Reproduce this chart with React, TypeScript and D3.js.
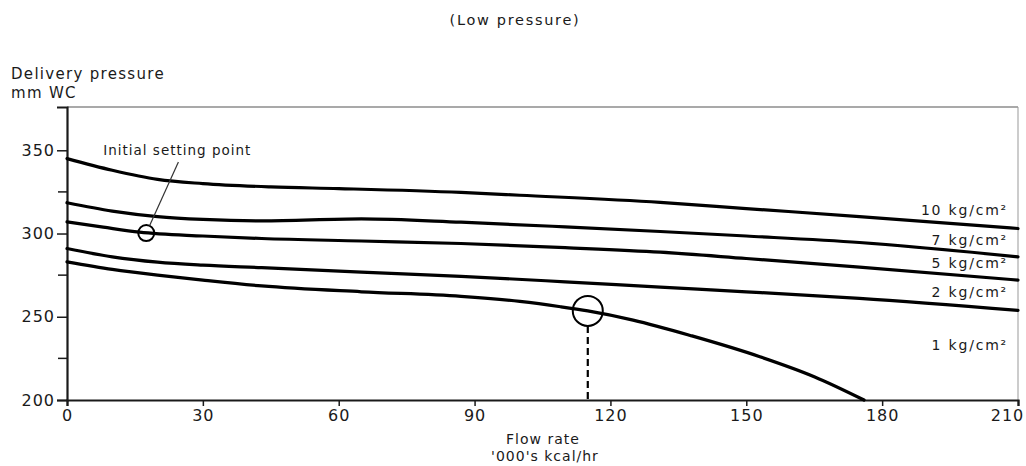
import { useEffect, useRef } from "react";
import * as d3 from "d3";

type Pt = [number, number];

// flow rate ('000 kcal/hr) vs delivery pressure (mm WC)
const curve10: Pt[] = [
  [0, 345], [10, 338], [20, 332.5], [30, 330], [45, 328], [60, 327], [87, 324.7],
  [100, 323], [131, 318.7], [150, 315], [175, 310.2], [210, 303],
];
const curve7: Pt[] = [
  [0, 318.5], [10, 313.5], [20, 310.2], [30, 308.5], [43, 307.6], [65, 308.8],
  [87, 306.8], [110, 304], [131, 301.2], [150, 298.5], [175, 294.6], [210, 286],
];
const curve5: Pt[] = [
  [0, 307], [8, 303.8], [16, 300.8], [30, 298.5], [43, 297], [65, 295.5],
  [87, 294], [110, 291.5], [131, 288.8], [150, 285], [175, 279.8], [210, 272],
];
const curve2: Pt[] = [
  [0, 291], [10, 286], [20, 282.8], [30, 281], [43, 279.5], [65, 276.8],
  [87, 274.3], [110, 271], [131, 267.8], [150, 265], [175, 261], [210, 253.8],
];
const curve1: Pt[] = [
  [0, 283], [10, 278.5], [20, 275], [30, 272], [43, 268.5], [65, 265],
  [87, 262.3], [100, 259.2], [109, 256], [115, 253.5], [125, 248], [138, 238.5],
  [153, 226], [165, 214], [176, 200],
];

const curves = [
  { label: "10 kg/cm²", data: curve10, labelY: 311 },
  { label: "7 kg/cm²", data: curve7, labelY: 293 },
  { label: "5 kg/cm²", data: curve5, labelY: 279.3 },
  { label: "2 kg/cm²", data: curve2, labelY: 262 },
  { label: "1 kg/cm²", data: curve1, labelY: 230 },
];

const xTicks = [0, 30, 60, 90, 120, 150, 180, 210];
const yTicks = [200, 250, 300, 350];
const yMinorTicks = [225, 275, 325];

const setPoint = { x: 17.5, y: 300.3, labelX: 8, labelY: 347, leaderX: 24.6, leaderY: 343 };
const limitPoint = { x: 115, y: 253.5 };

const W = 1026;
const H = 466;
const FONT = "DejaVu Sans, sans-serif";
const INK = "#1a1a1a";

export default function App() {
  const ref = useRef<SVGSVGElement | null>(null);

  useEffect(() => {
    const svg = d3.select(ref.current);
    svg.selectAll("*").remove();

    const x = d3.scaleLinear().domain([0, 210]).range([67, 1018]);
    const y = d3.scaleLinear().domain([200, 376]).range([400, 107]);

    const root = svg.attr("viewBox", `0 0 ${W} ${H}`).style("font-family", FONT);

    root.append("rect").attr("width", W).attr("height", H).attr("fill", "#fff");

    // title
    root.append("text")
      .attr("x", 515).attr("y", 25)
      .attr("text-anchor", "middle")
      .attr("font-size", 14.5).attr("letter-spacing", 1.7)
      .attr("fill", INK)
      .text("(Low pressure)");

    // y label
    root.append("text")
      .attr("x", 11).attr("y", 79)
      .attr("font-size", 15).attr("letter-spacing", 1.3)
      .attr("fill", INK)
      .text("Delivery pressure");
    root.append("text")
      .attr("x", 11).attr("y", 98)
      .attr("font-size", 15).attr("letter-spacing", 1.3)
      .attr("fill", INK)
      .text("mm WC");

    // frame (top / right light)
    root.append("line")
      .attr("x1", x(0)).attr("x2", x(210))
      .attr("y1", y(376)).attr("y2", y(376))
      .attr("stroke", "#555").attr("stroke-width", 1.2);
    root.append("line")
      .attr("x1", x(210)).attr("x2", x(210))
      .attr("y1", y(376)).attr("y2", y(200))
      .attr("stroke", "#999").attr("stroke-width", 1);

    // axes
    const xAxis = root.append("g")
      .attr("transform", `translate(0,${y(200)})`)
      .call(d3.axisBottom(x).tickValues(xTicks).tickSize(6).tickPadding(4).tickFormat(d3.format("d")));
    xAxis.select(".domain").attr("stroke", INK).attr("stroke-width", 2.2);
    xAxis.selectAll(".tick line").attr("stroke", INK).attr("stroke-width", 1.5);
    xAxis.selectAll("text")
      .attr("font-family", FONT).attr("font-size", 16).attr("letter-spacing", 1)
      .attr("fill", INK)
      .attr("dx", (d) => ((d as number) === 210 ? -11 : 0));

    const yAxis = root.append("g")
      .attr("transform", `translate(${x(0)},0)`)
      .call(d3.axisLeft(y).tickValues(yTicks).tickSize(10).tickPadding(2).tickFormat(d3.format("d")));
    yAxis.select(".domain").attr("stroke", INK).attr("stroke-width", 2.2);
    yAxis.selectAll(".tick line").attr("stroke", INK).attr("stroke-width", 1.5);
    yAxis.selectAll("text")
      .attr("font-family", FONT).attr("font-size", 16).attr("letter-spacing", 1)
      .attr("fill", INK);

    root.append("g")
      .selectAll("line")
      .data(yMinorTicks)
      .enter()
      .append("line")
      .attr("x1", x(0) - 9).attr("x2", x(0))
      .attr("y1", (d) => y(d)).attr("y2", (d) => y(d))
      .attr("stroke", INK).attr("stroke-width", 1.5);

    // x label
    root.append("text")
      .attr("x", 543).attr("y", 444)
      .attr("text-anchor", "middle")
      .attr("font-size", 14).attr("letter-spacing", 1)
      .attr("fill", INK)
      .text("Flow rate");
    root.append("text")
      .attr("x", 545).attr("y", 461)
      .attr("text-anchor", "middle")
      .attr("font-size", 14).attr("letter-spacing", 1)
      .attr("fill", INK)
      .text("'000's kcal/hr");

    // curves
    const line = d3.line<Pt>()
      .x((d) => x(d[0]))
      .y((d) => y(d[1]))
      .curve(d3.curveMonotoneX);

    curves.forEach((c) => {
      root.append("path")
        .datum(c.data)
        .attr("fill", "none")
        .attr("stroke", "#000")
        .attr("stroke-width", 3.2)
        .attr("stroke-linecap", "round")
        .attr("d", line);
      root.append("text")
        .attr("x", 1008).attr("y", y(c.labelY))
        .attr("text-anchor", "end")
        .attr("font-size", 14).attr("letter-spacing", 1.8)
        .attr("fill", INK)
        .text(c.label);
    });

    // initial setting point
    const cx = x(setPoint.x);
    const cy = y(setPoint.y);
    const r1 = 8;
    root.append("circle")
      .attr("cx", cx).attr("cy", cy).attr("r", r1)
      .attr("fill", "none").attr("stroke", "#000").attr("stroke-width", 2);
    const lx = x(setPoint.leaderX);
    const ly = y(setPoint.leaderY);
    const len = Math.hypot(lx - cx, ly - cy);
    root.append("line")
      .attr("x1", cx + ((lx - cx) / len) * r1).attr("y1", cy + ((ly - cy) / len) * r1)
      .attr("x2", lx).attr("y2", ly)
      .attr("stroke", "#333").attr("stroke-width", 1.2);
    root.append("text")
      .attr("x", x(setPoint.labelX)).attr("y", y(setPoint.labelY))
      .attr("font-size", 13.5).attr("letter-spacing", 1)
      .attr("fill", INK)
      .text("Initial setting point");

    // limit point on 1 kg/cm² curve
    const r2 = 15;
    const px = x(limitPoint.x);
    const py = y(limitPoint.y);
    root.append("circle")
      .attr("cx", px).attr("cy", py).attr("r", r2)
      .attr("fill", "none").attr("stroke", "#000").attr("stroke-width", 2);
    root.append("line")
      .attr("x1", px).attr("x2", px)
      .attr("y1", py + r2).attr("y2", y(200))
      .attr("stroke", "#000").attr("stroke-width", 2.2)
      .attr("stroke-dasharray", "7 4");
  }, []);

  return (
    <svg
      ref={ref}
      width={W}
      height={H}
      style={{ position: "absolute", left: 0, top: 0, display: "block" }}
    />
  );
}
